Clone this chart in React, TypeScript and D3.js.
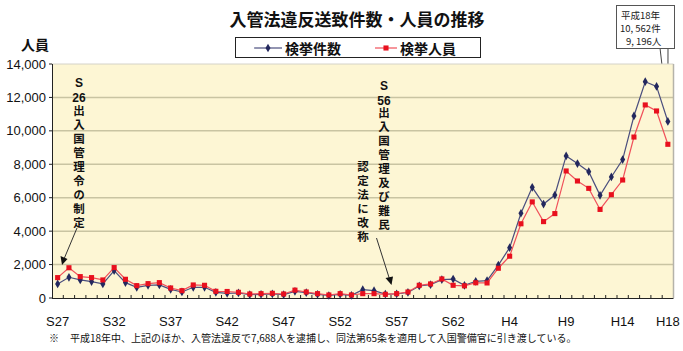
import React from 'react';
import * as d3 from 'd3';

// 年次（S27〜H18）
const years = [
  'S27', 'S28', 'S29', 'S30', 'S31', 'S32', 'S33', 'S34', 'S35', 'S36',
  'S37', 'S38', 'S39', 'S40', 'S41', 'S42', 'S43', 'S44', 'S45', 'S46',
  'S47', 'S48', 'S49', 'S50', 'S51', 'S52', 'S53', 'S54', 'S55', 'S56',
  'S57', 'S58', 'S59', 'S60', 'S61', 'S62', 'S63', 'H1', 'H2', 'H3',
  'H4', 'H5', 'H6', 'H7', 'H8', 'H9', 'H10', 'H11', 'H12', 'H13',
  'H14', 'H15', 'H16', 'H17', 'H18',
];

// 検挙件数
const cases = [
  840, 1240, 1080, 980, 840, 1640, 920, 640, 760, 780,
  520, 360, 640, 640, 340, 280, 300, 200, 220, 240,
  200, 400, 320, 220, 150, 220, 160, 500, 440, 230,
  240, 330, 720, 800, 1100, 1130, 760, 1000, 1040, 1970,
  3010, 5070, 6620, 5620, 6160, 8500, 8040, 7560, 6140, 7240,
  8280, 10890, 12940, 12660, 10562,
];

// 検挙人員
const persons = [
  1220, 1810, 1280, 1220, 1080, 1820, 1120, 740, 860, 920,
  600, 440, 780, 760, 400, 390, 340, 240, 260, 280,
  240, 470, 360, 260, 180, 260, 180, 260, 260, 220,
  260, 360, 760, 840, 1140, 760, 730, 910, 900, 1780,
  2500, 4440, 5750, 4570, 5050, 7600, 7000, 6560, 5300, 6180,
  7060, 9630, 11550, 11190, 9196,
];

const xLabels = ['S27', 'S32', 'S37', 'S42', 'S47', 'S52', 'S57', 'S62', 'H4', 'H9', 'H14', 'H18'];
const yTicks = [0, 2000, 4000, 6000, 8000, 10000, 12000, 14000];

// 注記（上の2行は横書き、残りは縦書き）
const note1Head = ['S', '26'];
const note1Body = '出入国管理令の制定';
const note2Head = ['S', '56'];
const note2Body = '出入国管理及び難民';
const note2Body2 = '認定法に改称';

const W = 683;
const H = 351;
const m = { left: 52, right: 10, top: 64, bottom: 53 };

const JP = '"Noto Sans CJK JP", sans-serif';
const LAT = '"Liberation Sans", Arial, sans-serif';

const Head = ({ items, x, y0 }: { items: string[]; x: number; y0: number }) => (
  <>
    {items.map((c, i) => (
      <text key={i} x={x} y={y0 + i * 14.5} textAnchor="middle" fontFamily={LAT} fontWeight="bold" fontSize={12} fill="#111">{c}</text>
    ))}
  </>
);

const Tate = ({ text, x, y }: { text: string; x: number; y: number }) => (
  <text x={x} y={y} fontFamily={JP} fontWeight="bold" fontSize={11.5} fill="#111"
    style={{ writingMode: 'vertical-rl', letterSpacing: '2.5px' }}>
    {text}
  </text>
);

export default function App() {
  const x = d3.scaleBand<string>()
    .domain(years)
    .range([m.left, W - m.right + 0.5]);
  const y = d3.scaleLinear().domain([0, 14000]).range([H - m.bottom, m.top]);
  const cx = (d: string) => (x(d) as number) + x.bandwidth() / 2;

  const line = d3.line<number>()
    .x((_, i) => cx(years[i]))
    .y(d => y(d));

  const diamond = d3.symbol().type(d3.symbolDiamond).size(22)() as string;
  const square = d3.symbol().type(d3.symbolSquare).size(26)() as string;

  const x0 = m.left;
  const x1 = W - m.right + 0.5;
  const yb = y(0);
  const yt = y(14000);

  const lastX = cx('H18');
  const lastY = y(cases[cases.length - 1]);

  return (
    <svg width={W} height={H} style={{ position: 'absolute', left: 0, top: 0, background: '#fff' }}>
      {/* タイトル */}
      <text x={357} y={26} textAnchor="middle" fontFamily={JP} fontWeight="bold" fontSize={17} fill="#111">
        入管法違反送致件数・人員の推移
      </text>

      {/* 凡例 */}
      <rect x={235.5} y={37.5} width={245} height={20} fill="#fff" stroke="#222" />
      <line x1={254} x2={282} y1={48} y2={48} stroke="#4a4e7e" strokeWidth={1.2} />
      <path d={diamond} transform="translate(268,48)" fill="#23285e" />
      <text x={285} y={53.5} fontFamily={JP} fontWeight="bold" fontSize={14} fill="#111">検挙件数</text>
      <line x1={375} x2={397} y1={48} y2={48} stroke="#f0505a" strokeWidth={1.2} />
      <path d={square} transform="translate(386,48)" fill="#e8101e" />
      <text x={400} y={53.5} fontFamily={JP} fontWeight="bold" fontSize={14} fill="#111">検挙人員</text>

      {/* 吹き出し */}
      <path d={`M${660},48 L${lastX},${lastY - 6} L${668},48`} fill="#fff" stroke="#444" strokeWidth={1} />
      <rect x={616.5} y={5.5} width={58} height={43} fill="#fff" stroke="#555" />
      <text fontFamily={JP} fontSize={9.5} fill="#222">
        <tspan x={621} y={19}>平成18年</tspan>
        <tspan x={620} y={32}>10, 562件</tspan>
        <tspan x={626} y={45}>9, 196人</tspan>
      </text>

      {/* 軸ラベル */}
      <text x={35} y={50} textAnchor="middle" fontFamily={JP} fontWeight="bold" fontSize={14} fill="#111">人員</text>

      {/* プロット背景 */}
      <rect x={x0} y={yt} width={x1 - x0} height={yb - yt} fill="#fdf6d4" />
      {yTicks.filter(t => t > 0).map(t => (
        <line key={t} x1={x0} x2={x1} y1={y(t)} y2={y(t)}
          stroke={t === 14000 ? '#d4d2c8' : '#c9c4a2'} strokeWidth={t === 14000 ? 1 : 1.5} />
      ))}
      <line x1={x1} x2={x1} y1={yt} y2={yb} stroke="#b5b3aa" strokeWidth={1.5} />

      {/* Y軸 */}
      <line x1={x0 + 0.5} x2={x0 + 0.5} y1={yt} y2={yb} stroke="#222" />
      {yTicks.map(t => (
        <g key={t}>
          <line x1={x0 - 3} x2={x0} y1={y(t)} y2={y(t)} stroke="#222" />
          <text x={46} y={y(t) + 4.5} textAnchor="end" fontFamily={LAT} fontSize={13} fill="#111">
            {d3.format(',')(t)}
          </text>
        </g>
      ))}

      {/* X軸 */}
      <line x1={x0} x2={x1} y1={yb + 0.5} y2={yb + 0.5} stroke="#222" />
      {years.slice(1).map(d => (
        <line key={d} x1={(x(d) as number)} x2={(x(d) as number)} y1={yb} y2={yb - 3} stroke="#222" />
      ))}
      {xLabels.map(d => (
        <text key={d} x={cx(d)} y={326} textAnchor="middle" fontFamily={LAT} fontSize={13} fill="#111">{d}</text>
      ))}

      {/* 系列 */}
      <path d={line(cases) as string} fill="none" stroke="#4a4e7e" strokeWidth={1.2} />
      {cases.map((v, i) => (
        <path key={i} d={diamond} transform={`translate(${cx(years[i])},${y(v)})`} fill="#23285e" />
      ))}
      <path d={line(persons) as string} fill="none" stroke="#f0505a" strokeWidth={1.2} />
      {persons.map((v, i) => (
        <path key={i} d={square} transform={`translate(${cx(years[i])},${y(v)})`} fill="#e8101e" />
      ))}

      {/* 注記 S26 */}
      <Head items={note1Head} x={79} y0={87} />
      <Tate text={note1Body} x={79} y={105} />
      <line x1={77} y1={228} x2={64} y2={259} stroke="#333" strokeWidth={1} />
      <path d="M62,265 L60.5,256 L67.5,259 Z" fill="#111" />

      {/* 注記 S56 */}
      <Head items={note2Head} x={384} y0={90} />
      <Tate text={note2Body} x={384} y={107} />
      <Tate text={note2Body2} x={363} y={161} />
      <line x1={376.5} y1={238} x2={389.5} y2={279} stroke="#333" strokeWidth={1} />
      <path d="M391.5,285 L385.5,278 L393,276.5 Z" fill="#111" />

      {/* 脚注 */}
      <text x={49} y={342} fontFamily={JP} fontSize={10} fill="#111">※</text>
      <text x={70} y={342} fontFamily={JP} fontSize={10} fill="#111">
        平成18年中、上記のほか、入管法違反で7,688人を逮捕し、同法第65条を適用して入国警備官に引き渡している。
      </text>
    </svg>
  );
}
